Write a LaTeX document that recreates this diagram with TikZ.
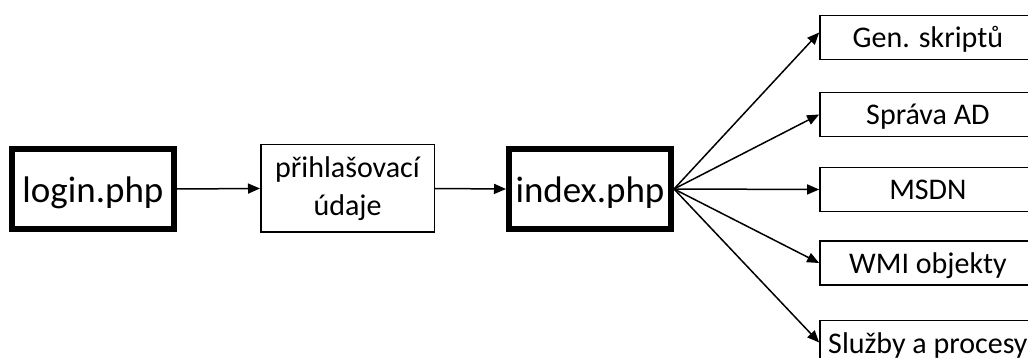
\documentclass[tikz,border=0pt]{standalone}
\usepackage{fontspec}
\setmainfont{Carlito}
\usetikzlibrary{arrows.meta}
\begin{document}
\begin{tikzpicture}[x=1pt,y=-1pt,
  bigbox/.style={draw, line width=6pt, minimum width=162pt, minimum height=80pt,
    inner sep=0pt, text height=28pt, text depth=0pt, font=\fontsize{37}{44}\selectfont},
  midbox/.style={draw, line width=1.5pt, minimum width=173.5pt, minimum height=87.5pt,
    inner sep=0pt, align=center, font=\fontsize{30}{38}\selectfont},
  sidebox/.style={draw, line width=1.5pt, minimum width=216pt, minimum height=44pt,
    inner sep=0pt, text height=21pt, text depth=0pt, font=\fontsize{30}{36}\selectfont},
  conn/.style={line width=1.5pt, -{Triangle[length=12pt,width=10pt]}}
]
\useasboundingbox (0,0) rectangle (1028,358);
\begin{scope}
\clip (0,0) rectangle (1028,358);
\node[bigbox] (login) at (93,189) {login.php};
\node[midbox] (udaje) at (347.5,188.5) {přihlašovací\\údaje};
\node[bigbox] (index) at (590,189) {index.php};
\node[sidebox] (gen) at (927.9,37.5) {Gen. skriptů};
\node[sidebox] (ad) at (927.9,114.5) {Správa AD};
\node[sidebox] (msdn) at (927.9,189.5) {MSDN};
\node[sidebox] (wmi) at (927.9,263) {WMI objekty};
\node[sidebox] (sluzby) at (927.9,342.5) {Služby a procesy};
\draw[conn] (login.east) -- (udaje.west);
\draw[conn] (udaje.east) -- (index.west);
\draw[conn] (index.east) -- ([yshift=5pt]gen.west);
\draw[conn] (index.east) -- (ad.west);
\draw[conn] (index.east) -- (msdn.west);
\draw[conn] (index.east) -- (wmi.west);
\draw[conn] (index.east) -- (sluzby.west);
\end{scope}
\end{tikzpicture}
\end{document}
